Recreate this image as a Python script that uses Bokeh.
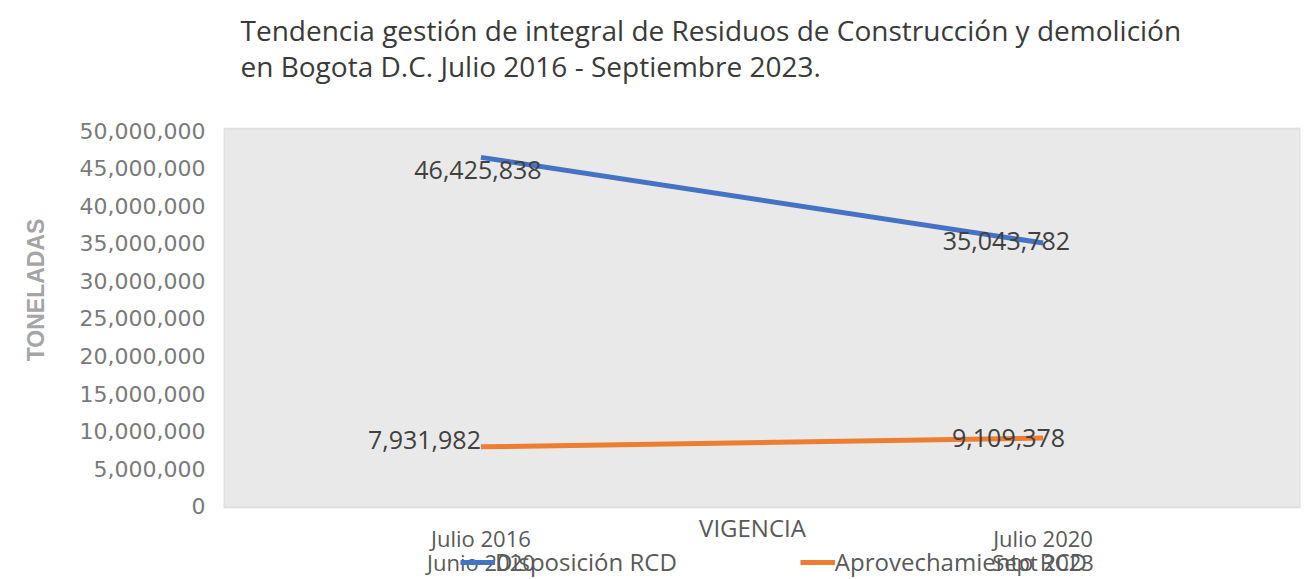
from bokeh.plotting import figure
from bokeh.models import (FactorRange, Range1d, FixedTicker, NumeralTickFormatter,
                          Label, Legend, LegendItem, CategoricalAxis, BoxAnnotation)
from bokeh.core.properties import value
from bokeh.embed import file_html
from bokeh.resources import INLINE

# ---- data ----
title_lines = [
    "Tendencia gestión de integral de Residuos de Construcción y demolición",
    "en Bogota D.C. Julio 2016 - Septiembre 2023.",
]
periods = ["Julio 2016\nJunio 2020", "Julio 2020\nSept 2023"]
series_names = ["Disposición RCD", "Aprovechamiento RCD"]
disposicion = [46425838, 35043782]
aprovechamiento = [7931982, 9109378]
y_ticks = [0, 5000000, 10000000, 15000000, 20000000, 25000000,
           30000000, 35000000, 40000000, 45000000, 50000000]
y_axis_title = "TONELADAS"
x_axis_title = "VIGENCIA"

BLUE = "#4472C4"
ORANGE = "#ED7D31"
TXT = "#595959"

# plot-area limits (data units) and the wider canvas range around it
area_bottom, area_top = -130000, 50270000

p = figure(width=1313, height=579,
           x_range=FactorRange(factors=periods, range_padding=-0.042),
           y_range=Range1d(-9710000, 67290000),
           x_axis_location=None,
           output_backend="svg", toolbar_location=None,
           min_border_left=223, min_border_right=13,
           min_border_top=0, min_border_bottom=0)

p.background_fill_color = "white"
p.border_fill_color = "white"
p.outline_line_color = None
p.xgrid.visible = False
p.ygrid.visible = False

# gray plot area
p.add_layout(BoxAnnotation(bottom=area_bottom, top=area_top, level="underlay",
                           fill_color="#e9e9e9", fill_alpha=1,
                           line_color="#b4b4b4", line_width=2))

# y axis
p.yaxis.ticker = FixedTicker(ticks=y_ticks)
p.yaxis.formatter = NumeralTickFormatter(format="0,0")
p.yaxis.axis_line_color = None
p.yaxis.major_tick_line_color = None
p.yaxis.major_tick_out = 0
p.yaxis.minor_tick_line_color = None
p.yaxis.minor_tick_out = 0
p.yaxis.major_label_standoff = 18
p.yaxis.major_label_text_font = "DejaVu Sans"
p.yaxis.major_label_text_font_size = "22px"
p.yaxis.major_label_text_color = "#7a7a7a"
p.yaxis.axis_label = y_axis_title
p.yaxis.axis_label_text_font = "Liberation Sans"
p.yaxis.axis_label_text_font_style = "bold"
p.yaxis.axis_label_text_font_size = "23px"
p.yaxis.axis_label_text_color = "#a5a5a5"
p.yaxis.axis_label_standoff = 28

# x axis drawn at the bottom of the plot area
xaxis = CategoricalAxis(fixed_location=area_bottom)
xaxis.axis_line_color = None
xaxis.major_tick_line_color = None
xaxis.major_tick_out = 0
xaxis.major_label_standoff = 16
xaxis.major_label_text_font = "Open Sans"
xaxis.major_label_text_font_size = "22px"
xaxis.major_label_text_line_height = 0.8
xaxis.major_label_text_color = TXT
p.add_layout(xaxis, "below")

# lines
r1 = p.line(x=periods, y=disposicion, line_color=BLUE, line_width=5)
r2 = p.line(x=periods, y=aprovechamiento, line_color=ORANGE, line_width=5)

# data labels
p.text(x=periods, y=disposicion, text=[f"{v:,}" for v in disposicion],
       x_offset=[-3, 27], y_offset=[13, -2], text_align=["center", "right"],
       text_baseline="middle", text_font=value("Open Sans"),
       text_font_size="25px", text_color="#404040")
p.text(x=periods, y=aprovechamiento, text=[f"{v:,}" for v in aprovechamiento],
       x_offset=[0, 22], y_offset=[-7, 0], text_align=["right", "right"],
       text_baseline="middle", text_font=value("Open Sans"),
       text_font_size="25px", text_color="#404040")

# title
for i, line in enumerate(title_lines):
    p.add_layout(Label(x=17, y=550 - 36 * i, x_units="screen", y_units="screen",
                       text=line, text_font="Open Sans", text_font_size="28px",
                       text_baseline="middle", text_color="#3a3a3a"))

# x axis title
p.add_layout(Label(x=529, y=52, x_units="screen", y_units="screen",
                   text=x_axis_title, text_font="Open Sans", text_font_size="24px",
                   text_align="center", text_baseline="middle", text_color=TXT))

legend = Legend(items=[LegendItem(label=series_names[0], renderers=[r1]),
                       LegendItem(label=series_names[1], renderers=[r2])],
                orientation="horizontal", location=(237, 1),
                padding=0, margin=0, spacing=123,
                glyph_width=35, glyph_height=20, label_standoff=0,
                label_text_font="Open Sans", label_text_font_size="24px",
                label_text_color=TXT,
                background_fill_alpha=0, border_line_color=None)
p.add_layout(legend)

open("out.html", "w").write(file_html(p, INLINE))
